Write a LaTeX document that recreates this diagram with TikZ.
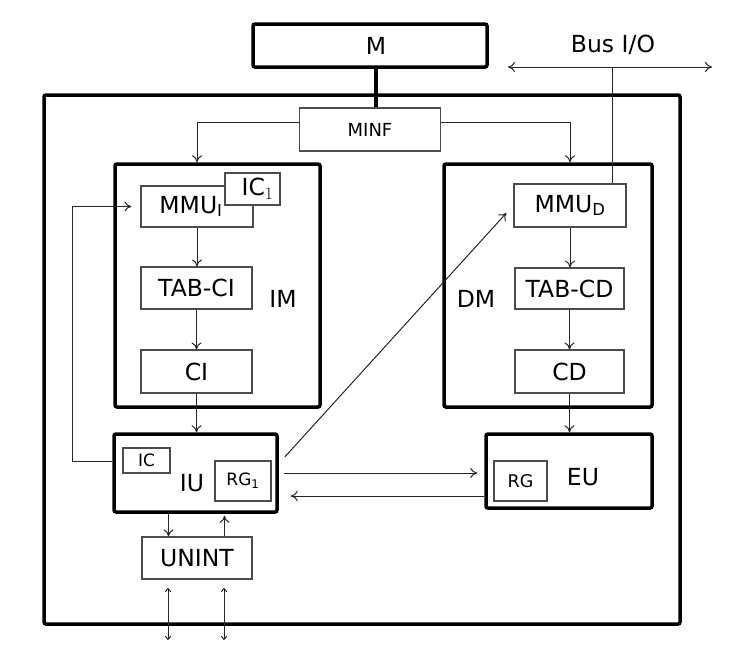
\documentclass[tikz,border=0pt]{standalone}
\usepackage{fontspec}
\setmainfont{DejaVu Sans}
\usetikzlibrary{arrows.meta}

\begin{document}
\begin{tikzpicture}[x=1pt,y=-1pt,
    every node/.style={font=\fontsize{23.5}{27}\selectfont},
    unit/.style={draw,line width=3.5pt,rounded corners=2pt,inner sep=0pt},
    blk/.style={draw=black!70,line width=1.2pt,fill=white,inner sep=0pt},
    wire/.style={black!85,line width=1pt},
    tiny/.style={>={To[length=4pt,width=6pt]}},
    >={To[length=7pt,width=10pt]}]
    \useasboundingbox (0,0) rectangle (736,646);
    % memory and processor
    \node[unit,minimum width=234pt,minimum height=43pt] (M) at (370,45.5) {\hspace*{12pt}M};
    \node[unit,minimum width=636pt,minimum height=529pt] (cpu) at (362,359.5) {};
    \node[blk,minimum width=141pt,minimum height=43pt,font=\fontsize{18}{21}\selectfont] (minf) at (370,129.5) {MINF};
    \draw[line width=3.5pt] ([xshift=6pt]M.south) -- ([xshift=6pt]minf.north);

    % instruction side
    \node[unit,minimum width=205pt,minimum height=243pt] (im) at (217.5,285.5) {};
    \node[blk,minimum width=112pt,minimum height=41pt] (mmui) at (197,206.5) {\hspace*{-12pt}MMU$_{\mathrm{I}}$};
    \node[blk,minimum width=55pt,minimum height=32pt] (ic1) at (252.5,189) {\hspace*{10pt}IC$_1$};
    \node[blk,minimum width=111pt,minimum height=42pt] (tabci) at (196.5,288) {TAB-CI};
    \node[blk,minimum width=111pt,minimum height=43pt] (ci) at (196.5,371.5) {CI};
    \node (imlbl) at (283,299) {IM};

    % data side
    \node[unit,minimum width=208pt,minimum height=243pt] (dm) at (548,285.5) {};
    \node[blk,minimum width=112pt,minimum height=43pt] (mmud) at (570,205.5) {MMU\textsubscript{D}};
    \node[blk,minimum width=109pt,minimum height=41pt] (tabcd) at (569.5,288.5) {TAB-CD};
    \node[blk,minimum width=109pt,minimum height=43pt] (cd) at (569.5,371.5) {CD};
    \node (dmlbl) at (476,299) {DM};

    % units
    \node[unit,minimum width=163pt,minimum height=78pt] (iu) at (195.5,473) {};
    \node[blk,minimum width=47pt,minimum height=25pt,font=\fontsize{17}{20}\selectfont] (ic) at (146.5,460.5) {IC};
    \node (iulbl) at (192,483) {IU};
    \node[blk,minimum width=56pt,minimum height=40pt,font=\fontsize{17}{20}\selectfont] (rg1) at (243,481) {RG\textsubscript{1}};
    \node[unit,minimum width=166pt,minimum height=74pt] (eu) at (569,471) {};
    \node[blk,minimum width=53pt,minimum height=40pt,font=\fontsize{17.5}{20}\selectfont] (rg) at (520.5,481) {RG};
    \node (eulbl) at (583,477) {EU};
    \node[blk,minimum width=110pt,minimum height=42pt] (unint) at (197,558) {UNINT};

    % bus
    \node (buslbl) at (613,45) {Bus I/O};
    \coordinate (busl) at (508,67);
    \coordinate (busr) at (712,67);
    \coordinate (bust) at (612,67);
    \coordinate (fb) at (72,461);
    \coordinate (ioa) at (168,588);
    \coordinate (iob) at (168,640);
    \coordinate (ioc) at (224,588);
    \coordinate (iod) at (224,640);

    \draw[wire,<->] (busl) -- (busr);
    \draw[wire] (bust) -- (bust |- mmud.north);
    \draw[wire,->] ([yshift=7.5pt]minf.west) -| (mmui.north |- im.north);
    \draw[wire,->] ([yshift=7.5pt]minf.east) -| (mmud.north |- dm.north);
    \draw[wire,->] (mmui.south) -- (mmui.south |- tabci.north);
    \draw[wire,->] (tabci) -- (ci);
    \draw[wire,->] (ci) -- (ci.south |- iu.north);
    \draw[wire,->] (mmud.south) -- (mmud.south |- tabcd.north);
    \draw[wire,->] (tabcd) -- (cd);
    \draw[wire,->] (cd) -- (cd.south |- eu.north);
    \draw[wire,->] (iu.west |- fb) -- (fb) |- ([xshift=-9pt]mmui.west);
    \draw[wire,->] ([xshift=6pt,yshift=16pt]iu.east) -- ([xshift=-7pt,yshift=-7.5pt]mmud.west);
    \draw[wire,->,shorten <=5pt,shorten >=7pt] (iu.east) -- (iu.east -| eu.west);
    \draw[wire,->,shorten >=12pt] ([yshift=-25pt]eu.west) -- ([yshift=-25pt]eu.west -| iu.east);
    \draw[wire,->] ([xshift=-27pt]iu.south) -- ([xshift=-27pt]iu.south |- unint.north);
    \draw[wire,->,shorten >=2pt] ([xshift=29pt]iu.south |- unint.north) -- ([xshift=29pt]iu.south);
    \draw[wire,tiny,<->] (ioa) -- (iob);
    \draw[wire,tiny,<->] (ioc) -- (iod);
\end{tikzpicture}
\end{document}
